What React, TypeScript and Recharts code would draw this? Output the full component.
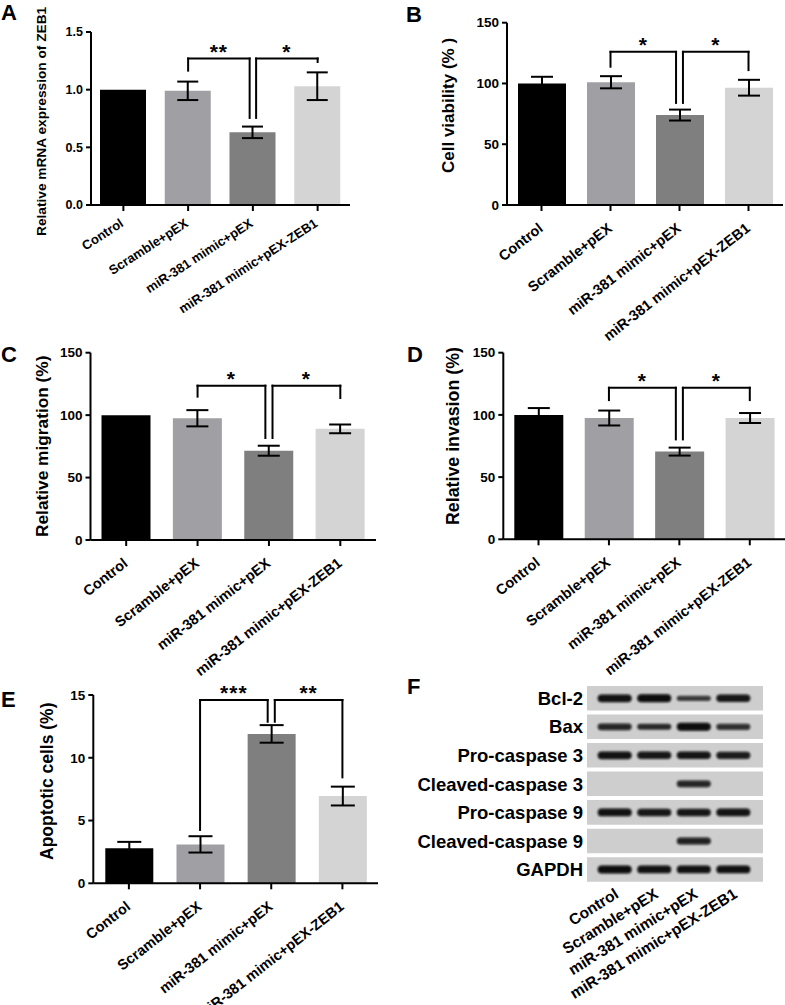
import React from 'react'
import {
  ComposedChart, Bar, Cell, ErrorBar, XAxis, YAxis, ReferenceLine,
  ScatterChart, Scatter, ReferenceArea,
} from 'recharts'

const FONT = '"Liberation Sans", Arial, Helvetica, sans-serif'

const GROUPS = ['Control', 'Scramble+pEX', 'miR-381 mimic+pEX', 'miR-381 mimic+pEX-ZEB1']
const GROUP_COLORS = ['#000000', '#a0a0a4', '#7f7f7f', '#d4d4d4']
const PIVOT = 2 // mimic+pEX is shared by both brackets, legs sit either side of it

// A - ZEB1 mRNA
const ZEB1_MRNA = [1.0, 0.99, 0.63, 1.03]
const ZEB1_MRNA_SEM = [0, 0.08, 0.05, 0.12]
const ZEB1_TICKS = [0, 0.5, 1.0, 1.5]
// [left group, right group, bracket top, left leg end, right leg end, mark]
const ZEB1_SIG: any[] = [[1, 2, 1.27, 1.165, 0.755, '**'], [2, 3, 1.27, 0.755, 1.24, '*']]

// B - viability
const VIABILITY = [100, 101, 74, 96.5]
const VIABILITY_SEM = [5.5, 5, 4.5, 6.5]
const PCT_TICKS = [0, 50, 100, 150]
const VIABILITY_SIG: any[] = [[1, 2, 126, 113.8, 84, '*'], [2, 3, 126, 84, 111, '*']]

// C - migration
const MIGRATION = [100, 97.5, 71.5, 89]
const MIGRATION_SEM = [0, 6.5, 4, 3.5]
const MIGRATION_SIG: any[] = [[1, 2, 123.6, 114.8, 81.7, '*'], [2, 3, 123.6, 81.7, 113.7, '*']]

// D - invasion
const INVASION = [100, 97.5, 70.5, 97.5]
const INVASION_SEM = [5.5, 6, 3.2, 4]
const INVASION_SIG: any[] = [[1, 2, 121.8, 111.9, 80.3, '*'], [2, 3, 121.8, 80.3, 111.9, '*']]

// E - apoptosis
const APOPTOSIS = [2.8, 3.1, 11.9, 6.95]
const APOPTOSIS_SEM = [0.5, 0.65, 0.7, 0.75]
const APOPTOSIS_TICKS = [0, 5, 10, 15]
const APOPTOSIS_SIG: any[] = [[1, 2, 14.6, 4.25, 12.87, '***'], [2, 3, 14.6, 12.87, 8.44, '**']]

// F - western blot, band intensity per lane (0 = no band)
const PROTEINS = ['Bcl-2', 'Bax', 'Pro-caspase 3', 'Cleaved-caspase 3', 'Pro-caspase 9', 'Cleaved-caspase 9', 'GAPDH']
const BCL2 = [0.95, 1, 0.45, 0.9]
const BAX = [0.75, 0.6, 1, 0.65]
const PRO_CASP3 = [0.95, 0.9, 0.92, 0.85]
const CLV_CASP3 = [0, 0, 0.75, 0]
const PRO_CASP9 = [0.95, 0.9, 0.9, 0.92]
const CLV_CASP9 = [0, 0, 0.8, 0]
const GAPDH = [1, 0.95, 0.95, 0.97]
const BLOT = [BCL2, BAX, PRO_CASP3, CLV_CASP3, PRO_CASP9, CLV_CASP9, GAPDH]
const LANES = [0, 1, 2, 3]

function GroupTick({ x, y, payload, size, angle, dx, dy }: any) {
  const name = GROUPS[Math.round(payload.value - 0.5)]
  const ax = x + dx
  const ay = y + dy
  return (
    <text x={ax} y={ay} textAnchor="end" transform={`rotate(${-angle} ${ax} ${ay})`}
      fontSize={size} fontWeight="bold" fontFamily={FONT} fill="#000">
      {name}
    </text>
  )
}

function bracketLines(sig: any[]) {
  const line = { stroke: '#000', strokeWidth: 2, strokeLinecap: 'square' as const, ifOverflow: 'visible' as const }
  return sig.flatMap(([a, b, top, aEnd, bEnd, mark], i) => {
    const xa = a + 0.5 + (a === PIVOT ? 0.05 : 0)
    const xb = b + 0.5 - (b === PIVOT ? 0.05 : 0)
    return [
      <ReferenceLine key={`l${i}`} segment={[{ x: xa, y: aEnd }, { x: xa, y: top }]} {...line} />,
      <ReferenceLine key={`t${i}`} segment={[{ x: xa, y: top }, { x: xb, y: top }]} {...line}
        label={{ value: mark, position: 'top', offset: 0, fill: '#000', fontSize: 21, fontWeight: 'bold', fontFamily: FONT, letterSpacing: 1 }} />,
      <ReferenceLine key={`r${i}`} segment={[{ x: xb, y: top }, { x: xb, y: bEnd }]} {...line} />,
    ]
  })
}

function BarPanel({ box, plot, values, errors, ticks, fmt, barSize, cap, sig, tickSize, angle, yFont, dx, dy }: any) {
  const data = GROUPS.map((g, i) => ({ pos: i + 0.5, name: g, value: values[i], err: errors[i] }))
  const bottomPad = 4
  const xh = box.top + box.height - plot.bottom - bottomPad
  const margin = {
    top: plot.top - box.top,
    right: box.left + box.width - plot.right,
    bottom: bottomPad,
    left: 0,
  }
  return (
    <div style={{ position: 'absolute', left: box.left, top: box.top }}>
      <ComposedChart width={box.width} height={box.height} data={data} margin={margin}>
        <XAxis type="number" dataKey="pos" domain={[0, 4]} ticks={[0.5, 1.5, 2.5, 3.5]} interval={0}
          height={xh} tickSize={6} tickMargin={2}
          axisLine={{ stroke: '#000', strokeWidth: 2 }} tickLine={{ stroke: '#000', strokeWidth: 2 }}
          tick={(p: any) => <GroupTick {...p} size={tickSize} angle={angle} dx={dx} dy={dy} />} />
        <YAxis type="number" domain={[ticks[0], ticks[ticks.length - 1]]} ticks={ticks} interval={0}
          width={plot.left - box.left} tickSize={5} tickMargin={3} tickFormatter={fmt}
          axisLine={{ stroke: '#000', strokeWidth: 2 }} tickLine={{ stroke: '#000', strokeWidth: 2 }}
          tick={{ fill: '#000', fontSize: yFont, fontWeight: 'bold', fontFamily: FONT }} />
        <Bar dataKey="value" barSize={barSize} isAnimationActive={false}>
          {data.map((d, i) => <Cell key={d.name} fill={GROUP_COLORS[i]} />)}
          <ErrorBar dataKey="err" width={cap} strokeWidth={2} stroke="#000" direction="y" isAnimationActive={false} />
        </Bar>
        {bracketLines(sig)}
      </ComposedChart>
    </div>
  )
}

function ProteinTick({ x, y, payload }: any) {
  return (
    <text x={x} y={y} dy="0.36em" textAnchor="end" fontSize={18.5} fontWeight="bold" fontFamily={FONT} fill="#000">
      {PROTEINS[payload.value]}
    </text>
  )
}

function LaneTick({ x, y, payload }: any) {
  const ax = x + 5
  const ay = y + 9
  return (
    <text x={ax} y={ay} textAnchor="end" transform={`rotate(-32 ${ax} ${ay})`}
      fontSize={15.5} fontWeight="bold" fontFamily={FONT} fill="#000">
      {GROUPS[payload.value]}
    </text>
  )
}

function Band({ cx, cy, payload }: any) {
  const v = payload.v
  const h = 3 + 5 * v
  return (
    <rect x={cx - 17} y={cy - h / 2} width={34} height={h} rx={h / 2}
      fill="#080808" fillOpacity={0.5 + 0.5 * v} filter="url(#band-blur)" />
  )
}

function BlotPanel() {
  const bands = BLOT.flatMap((row, r) => row.map((v, lane) => ({ lane, row: r, v }))).filter(d => d.v > 0)
  return (
    <div style={{ position: 'absolute', left: 392, top: 660 }}>
      <ScatterChart width={393} height={345} margin={{ top: 26, right: 22, bottom: 23.3, left: 0 }}>
        <XAxis type="number" dataKey="lane" domain={[-0.7, 3.75]} ticks={LANES} interval={0}
          height={100} tickSize={6} tickMargin={0} axisLine={false} tickLine={false} tick={<LaneTick />} />
        <YAxis type="number" dataKey="row" domain={[-0.43, 6.43]} reversed ticks={PROTEINS.map((p, i) => i)} interval={0}
          width={195} tickSize={4} tickMargin={0} axisLine={false} tickLine={false} tick={<ProteinTick />} />
        {PROTEINS.map((p, r) => (
          <ReferenceArea key={p} x1={-0.7} x2={3.75} y1={r - 0.43} y2={r + 0.43}
            fill="#cecece" fillOpacity={1} stroke="none" />
        ))}
        <Scatter data={bands} shape={(p: any) => <Band {...p} />} isAnimationActive={false} />
      </ScatterChart>
    </div>
  )
}

const letter = { fontSize: 22, fontWeight: 'bold' as const, fontFamily: FONT, fill: '#000' }

function Title({ x, y, size, text }: any) {
  return (
    <text x={x} y={y} transform={`rotate(-90 ${x} ${y})`} textAnchor="start" dominantBaseline="central"
      fontSize={size} fontWeight="bold" fontFamily={FONT} fill="#000">
      {text}
    </text>
  )
}

export default function App() {
  const one = (v: number) => v.toFixed(1)
  const big = { tickSize: 14.5, angle: 38, yFont: 13.5, dx: 2.5, dy: 17 }
  return (
    <div style={{ position: 'relative', width: 785, height: 1005, background: '#fff', overflow: 'hidden' }}>
      <style>{'body{margin:0}'}</style>
      <BarPanel box={{ left: 0, top: 0, width: 385, height: 375 }} plot={{ left: 91, right: 350, top: 32, bottom: 205 }}
        values={ZEB1_MRNA} errors={ZEB1_MRNA_SEM} ticks={ZEB1_TICKS} fmt={one} barSize={46} cap={10.5} sig={ZEB1_SIG}
        tickSize={13} angle={33} yFont={12.5} dx={1} dy={12.5} />
      <BarPanel box={{ left: 392, top: 0, width: 393, height: 375 }} plot={{ left: 507, right: 783, top: 22.7, bottom: 205 }}
        values={VIABILITY} errors={VIABILITY_SEM} ticks={PCT_TICKS} barSize={48} cap={11} sig={VIABILITY_SIG} {...big} />
      <BarPanel box={{ left: 0, top: 330, width: 385, height: 375 }} plot={{ left: 90.5, right: 376, top: 352.7, bottom: 540 }}
        values={MIGRATION} errors={MIGRATION_SEM} ticks={PCT_TICKS} barSize={49} cap={11} sig={MIGRATION_SIG} {...big} />
      <BarPanel box={{ left: 392, top: 330, width: 393, height: 375 }} plot={{ left: 503.3, right: 785, top: 352.7, bottom: 539.3 }}
        values={INVASION} errors={INVASION_SEM} ticks={PCT_TICKS} barSize={49} cap={11} sig={INVASION_SIG} {...big} />
      <BarPanel box={{ left: 0, top: 660, width: 385, height: 345 }} plot={{ left: 93.3, right: 378, top: 695, bottom: 883.3 }}
        values={APOPTOSIS} errors={APOPTOSIS_SEM} ticks={APOPTOSIS_TICKS} barSize={48} cap={12} sig={APOPTOSIS_SIG} {...big} />
      <BlotPanel />
      <svg width={785} height={1005} style={{ position: 'absolute', left: 0, top: 0, pointerEvents: 'none' }}>
        <defs>
          <filter id="band-blur" x="-20%" y="-150%" width="140%" height="400%">
            <feGaussianBlur stdDeviation="1.1" />
          </filter>
        </defs>
        <text x={1} y={20} {...letter}>A</text>
        <text x={406} y={21.5} {...letter}>B</text>
        <text x={1} y={361.5} {...letter}>C</text>
        <text x={407} y={361.5} {...letter}>D</text>
        <text x={1} y={706.5} {...letter}>E</text>
        <text x={407} y={693.5} {...letter}>F</text>
        <Title x={41} y={236} size={13.7} text="Relative mRNA expression of ZEB1" />
        <Title x={448} y={173} size={17} text="Cell viability (% )" />
        <Title x={41.5} y={537} size={17.3} text="Relative migration (%)" />
        <Title x={452.5} y={525} size={17.8} text="Relative invasion (%)" />
        <Title x={46.5} y={860} size={17.5} text="Apoptotic cells (%)" />
      </svg>
    </div>
  )
}
